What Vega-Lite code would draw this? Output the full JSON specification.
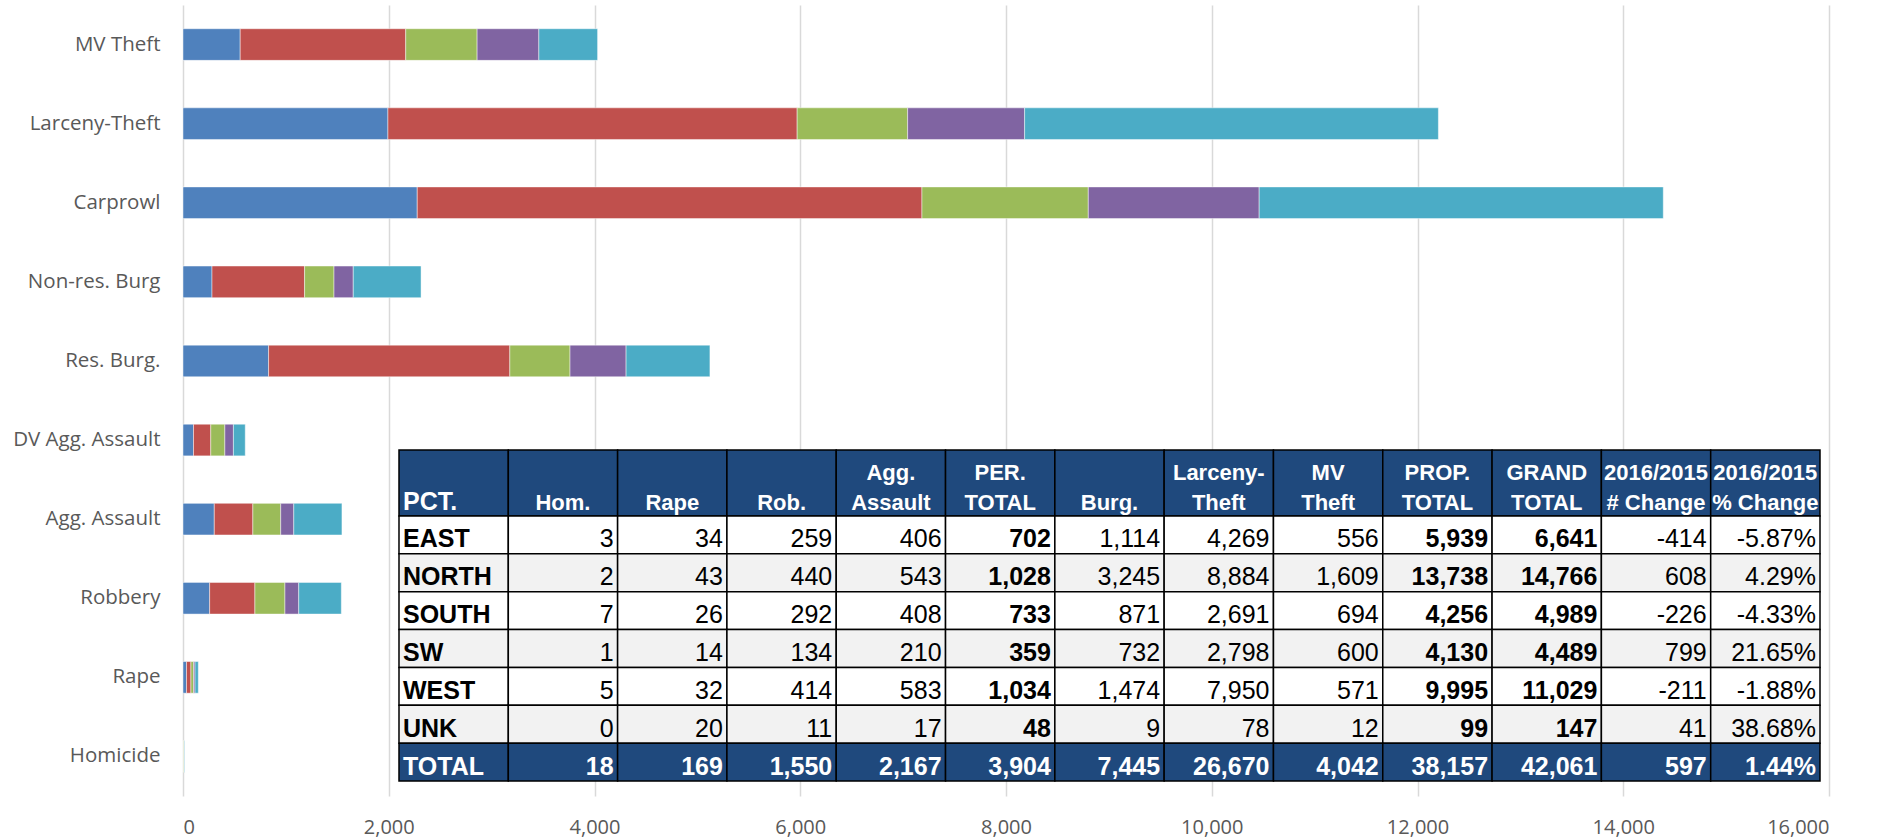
{
  "$schema": "https://vega.github.io/schema/vega-lite/v6.json",
  "width": 1646,
  "height": 791,
  "autosize": {"type": "none"},
  "padding": {"left": 183, "top": 5, "right": 48, "bottom": 44},
  "background": "white",
  "datasets": {
    "bars": [
      {"crime": "Homicide", "pct": "East", "k": 1, "value": 3},
      {"crime": "Homicide", "pct": "North", "k": 2, "value": 2},
      {"crime": "Homicide", "pct": "South", "k": 3, "value": 7},
      {"crime": "Homicide", "pct": "SW", "k": 4, "value": 1},
      {"crime": "Homicide", "pct": "West", "k": 5, "value": 5},
      {"crime": "Rape", "pct": "East", "k": 1, "value": 34},
      {"crime": "Rape", "pct": "North", "k": 2, "value": 43},
      {"crime": "Rape", "pct": "South", "k": 3, "value": 26},
      {"crime": "Rape", "pct": "SW", "k": 4, "value": 14},
      {"crime": "Rape", "pct": "West", "k": 5, "value": 32},
      {"crime": "Robbery", "pct": "East", "k": 1, "value": 259},
      {"crime": "Robbery", "pct": "North", "k": 2, "value": 440},
      {"crime": "Robbery", "pct": "South", "k": 3, "value": 292},
      {"crime": "Robbery", "pct": "SW", "k": 4, "value": 134},
      {"crime": "Robbery", "pct": "West", "k": 5, "value": 414},
      {"crime": "Agg. Assault", "pct": "East", "k": 1, "value": 304},
      {"crime": "Agg. Assault", "pct": "North", "k": 2, "value": 375},
      {"crime": "Agg. Assault", "pct": "South", "k": 3, "value": 271},
      {"crime": "Agg. Assault", "pct": "SW", "k": 4, "value": 127},
      {"crime": "Agg. Assault", "pct": "West", "k": 5, "value": 468},
      {"crime": "DV Agg. Assault", "pct": "East", "k": 1, "value": 102},
      {"crime": "DV Agg. Assault", "pct": "North", "k": 2, "value": 168},
      {"crime": "DV Agg. Assault", "pct": "South", "k": 3, "value": 137},
      {"crime": "DV Agg. Assault", "pct": "SW", "k": 4, "value": 83},
      {"crime": "DV Agg. Assault", "pct": "West", "k": 5, "value": 115},
      {"crime": "Res. Burg.", "pct": "East", "k": 1, "value": 832},
      {"crime": "Res. Burg.", "pct": "North", "k": 2, "value": 2345},
      {"crime": "Res. Burg.", "pct": "South", "k": 3, "value": 585},
      {"crime": "Res. Burg.", "pct": "SW", "k": 4, "value": 545},
      {"crime": "Res. Burg.", "pct": "West", "k": 5, "value": 815},
      {"crime": "Non-res. Burg", "pct": "East", "k": 1, "value": 282},
      {"crime": "Non-res. Burg", "pct": "North", "k": 2, "value": 900},
      {"crime": "Non-res. Burg", "pct": "South", "k": 3, "value": 286},
      {"crime": "Non-res. Burg", "pct": "SW", "k": 4, "value": 187},
      {"crime": "Non-res. Burg", "pct": "West", "k": 5, "value": 659},
      {"crime": "Carprowl", "pct": "East", "k": 1, "value": 2277},
      {"crime": "Carprowl", "pct": "North", "k": 2, "value": 4906},
      {"crime": "Carprowl", "pct": "South", "k": 3, "value": 1617},
      {"crime": "Carprowl", "pct": "SW", "k": 4, "value": 1661},
      {"crime": "Carprowl", "pct": "West", "k": 5, "value": 3928},
      {"crime": "Larceny-Theft", "pct": "East", "k": 1, "value": 1992},
      {"crime": "Larceny-Theft", "pct": "North", "k": 2, "value": 3978},
      {"crime": "Larceny-Theft", "pct": "South", "k": 3, "value": 1074},
      {"crime": "Larceny-Theft", "pct": "SW", "k": 4, "value": 1137},
      {"crime": "Larceny-Theft", "pct": "West", "k": 5, "value": 4022},
      {"crime": "MV Theft", "pct": "East", "k": 1, "value": 556},
      {"crime": "MV Theft", "pct": "North", "k": 2, "value": 1609},
      {"crime": "MV Theft", "pct": "South", "k": 3, "value": 694},
      {"crime": "MV Theft", "pct": "SW", "k": 4, "value": 600},
      {"crime": "MV Theft", "pct": "West", "k": 5, "value": 571}
    ],
    "header": [
      {"c": "pct", "l1": "", "l2": "PCT."},
      {"c": "hom", "l1": "", "l2": "Hom."},
      {"c": "rape", "l1": "", "l2": "Rape"},
      {"c": "rob", "l1": "", "l2": "Rob."},
      {"c": "agg", "l1": "Agg.", "l2": "Assault"},
      {"c": "per", "l1": "PER.", "l2": "TOTAL"},
      {"c": "burg", "l1": "", "l2": "Burg."},
      {"c": "lar", "l1": "Larceny-", "l2": "Theft"},
      {"c": "mv", "l1": "MV", "l2": "Theft"},
      {"c": "prop", "l1": "PROP.", "l2": "TOTAL"},
      {"c": "grand", "l1": "GRAND", "l2": "TOTAL"},
      {"c": "chg", "l1": "2016/2015", "l2": "# Change"},
      {"c": "pchg", "l1": "2016/2015", "l2": "% Change"}
    ],
    "table": [
      {"r": "EAST", "pct": "EAST", "hom": "3", "rape": "34", "rob": "259", "agg": "406", "per": "702", "burg": "1,114", "lar": "4,269", "mv": "556", "prop": "5,939", "grand": "6,641", "chg": "-414", "pchg": "-5.87%"},
      {"r": "NORTH", "pct": "NORTH", "hom": "2", "rape": "43", "rob": "440", "agg": "543", "per": "1,028", "burg": "3,245", "lar": "8,884", "mv": "1,609", "prop": "13,738", "grand": "14,766", "chg": "608", "pchg": "4.29%"},
      {"r": "SOUTH", "pct": "SOUTH", "hom": "7", "rape": "26", "rob": "292", "agg": "408", "per": "733", "burg": "871", "lar": "2,691", "mv": "694", "prop": "4,256", "grand": "4,989", "chg": "-226", "pchg": "-4.33%"},
      {"r": "SW", "pct": "SW", "hom": "1", "rape": "14", "rob": "134", "agg": "210", "per": "359", "burg": "732", "lar": "2,798", "mv": "600", "prop": "4,130", "grand": "4,489", "chg": "799", "pchg": "21.65%"},
      {"r": "WEST", "pct": "WEST", "hom": "5", "rape": "32", "rob": "414", "agg": "583", "per": "1,034", "burg": "1,474", "lar": "7,950", "mv": "571", "prop": "9,995", "grand": "11,029", "chg": "-211", "pchg": "-1.88%"},
      {"r": "UNK", "pct": "UNK", "hom": "0", "rape": "20", "rob": "11", "agg": "17", "per": "48", "burg": "9", "lar": "78", "mv": "12", "prop": "99", "grand": "147", "chg": "41", "pchg": "38.68%"},
      {"r": "TOTAL", "pct": "TOTAL", "hom": "18", "rape": "169", "rob": "1,550", "agg": "2,167", "per": "3,904", "burg": "7,445", "lar": "26,670", "mv": "4,042", "prop": "38,157", "grand": "42,061", "chg": "597", "pchg": "1.44%"}
    ]
  },
  "layer": [
    {
      "data": {"name": "bars"},
      "mark": {"type": "bar", "stroke": "#ffffff", "strokeWidth": 1, "strokeOpacity": 0.45},
      "encoding": {
        "y": {
          "field": "crime", "type": "nominal",
          "sort": ["MV Theft", "Larceny-Theft", "Carprowl", "Non-res. Burg", "Res. Burg.", "DV Agg. Assault", "Agg. Assault", "Robbery", "Rape", "Homicide"],
          "scale": {"paddingInner": 0.6, "paddingOuter": 0.3},
          "axis": {"title": null, "domain": false, "ticks": false, "labelPadding": 23, "labelFont": "Open Sans", "labelFontSize": 20.5, "labelColor": "#595959", "grid": false}
        },
        "x": {
          "field": "value", "type": "quantitative", "aggregate": "sum", "stack": "zero",
          "scale": {"domain": [0, 16000], "nice": false},
          "axis": {"title": null, "values": [0, 2000, 4000, 6000, 8000, 10000, 12000, 14000, 16000], "format": ",.0f", "domain": false, "ticks": false, "grid": true, "gridColor": "#D9D9D9", "gridWidth": 1.5, "labelPadding": 21, "labelFont": "Open Sans", "labelFontSize": 20, "labelColor": "#595959"}
        },
        "color": {
          "field": "pct", "type": "nominal",
          "scale": {"domain": ["East", "North", "South", "SW", "West"], "range": ["#4F81BD", "#C0504D", "#9BBB59", "#8064A2", "#4BACC6"]},
          "legend": null
        },
        "order": {"field": "k", "type": "quantitative", "sort": "ascending"}
      }
    },
    {
      "data": {"name": "header"},
      "layer": [
        {
          "mark": {"type": "rect", "fill": "#1F497D", "stroke": "#000000", "strokeWidth": 1.5},
          "encoding": {
            "x": {"field": "c", "type": "nominal", "sort": null, "scale": {"type": "band", "domain": ["pct", "hom", "rape", "rob", "agg", "per", "burg", "lar", "mv", "prop", "grand", "chg", "pchg"], "range": [216, 1637], "paddingInner": 0, "paddingOuter": 0}, "axis": null},
            "y": {"datum": "H", "type": "nominal", "scale": {"type": "band", "domain": ["H"], "range": [445, 511], "paddingInner": 0, "paddingOuter": 0}, "axis": null}
          }
        },
        {
          "transform": [{"filter": "datum.c !== 'pct'"}],
          "mark": {"type": "text", "align": "center", "baseline": "alphabetic", "font": "Liberation Sans, Arial, sans-serif", "fontSize": 22, "fontWeight": "bold", "fill": "#ffffff"},
          "encoding": {
            "x": {"field": "c", "type": "nominal", "bandPosition": 0.5, "axis": null},
            "y": {"datum": "H", "type": "nominal", "bandPosition": 0.455, "axis": null},
            "text": {"field": "l1"}
          }
        },
        {
          "transform": [{"filter": "datum.c !== 'pct'"}],
          "mark": {"type": "text", "align": "center", "baseline": "alphabetic", "font": "Liberation Sans, Arial, sans-serif", "fontSize": 22, "fontWeight": "bold", "fill": "#ffffff"},
          "encoding": {
            "x": {"field": "c", "type": "nominal", "bandPosition": 0.5, "axis": null},
            "y": {"datum": "H", "type": "nominal", "bandPosition": 0.91, "axis": null},
            "text": {"field": "l2"}
          }
        },
        {
          "transform": [{"filter": "datum.c === 'pct'"}],
          "mark": {"type": "text", "align": "left", "dx": 4, "baseline": "alphabetic", "font": "Liberation Sans, Arial, sans-serif", "fontSize": 25, "fontWeight": "bold", "fill": "#ffffff"},
          "encoding": {
            "x": {"field": "c", "type": "nominal", "bandPosition": 0, "axis": null},
            "y": {"datum": "H", "type": "nominal", "bandPosition": 0.91, "axis": null},
            "text": {"field": "l2"}
          }
        }
      ]
    },
    {
      "data": {"name": "table"},
      "transform": [{"fold": ["pct", "hom", "rape", "rob", "agg", "per", "burg", "lar", "mv", "prop", "grand", "chg", "pchg"], "as": ["c", "t"]}],
      "layer": [
        {
          "mark": {"type": "rect", "stroke": "#000000", "strokeWidth": 1.5},
          "encoding": {
            "x": {"field": "c", "type": "nominal", "sort": null, "scale": {"type": "band", "domain": ["pct", "hom", "rape", "rob", "agg", "per", "burg", "lar", "mv", "prop", "grand", "chg", "pchg"], "range": [216, 1637], "paddingInner": 0, "paddingOuter": 0}, "axis": null},
            "y": {"field": "r", "type": "nominal", "sort": null, "scale": {"type": "band", "domain": ["EAST", "NORTH", "SOUTH", "SW", "WEST", "UNK", "TOTAL"], "range": [511, 776], "paddingInner": 0, "paddingOuter": 0}, "axis": null},
            "fill": {
              "condition": [
                {"test": "datum.r === 'TOTAL'", "value": "#1F497D"},
                {"test": "indexof(['NORTH','SW','UNK'], datum.r) >= 0", "value": "#F2F2F2"}
              ],
              "value": "#FFFFFF"
            }
          }
        },
        {
          "transform": [{"filter": "datum.c === 'pct'"}],
          "mark": {"type": "text", "align": "left", "dx": 4, "baseline": "alphabetic", "font": "Liberation Sans, Arial, sans-serif", "fontSize": 25, "fontWeight": "bold"},
          "encoding": {
            "x": {"field": "c", "type": "nominal", "bandPosition": 0, "axis": null},
            "y": {"field": "r", "type": "nominal", "bandPosition": 0.83, "axis": null},
            "text": {"field": "t"},
            "color": {"condition": {"test": "datum.r === 'TOTAL'", "value": "#FFFFFF"}, "value": "#000000"}
          }
        },
        {
          "transform": [{"filter": "datum.c !== 'pct' && (datum.r === 'TOTAL' || indexof(['per','prop','grand'], datum.c) >= 0)"}],
          "mark": {"type": "text", "align": "right", "dx": -4, "baseline": "alphabetic", "font": "Liberation Sans, Arial, sans-serif", "fontSize": 25, "fontWeight": "bold"},
          "encoding": {
            "x": {"field": "c", "type": "nominal", "bandPosition": 1, "axis": null},
            "y": {"field": "r", "type": "nominal", "bandPosition": 0.83, "axis": null},
            "text": {"field": "t"},
            "color": {"condition": {"test": "datum.r === 'TOTAL'", "value": "#FFFFFF"}, "value": "#000000"}
          }
        },
        {
          "transform": [{"filter": "datum.c !== 'pct' && datum.r !== 'TOTAL' && indexof(['per','prop','grand'], datum.c) < 0"}],
          "mark": {"type": "text", "align": "right", "dx": -4, "baseline": "alphabetic", "font": "Liberation Sans, Arial, sans-serif", "fontSize": 25, "fontWeight": "normal", "fill": "#000000"},
          "encoding": {
            "x": {"field": "c", "type": "nominal", "bandPosition": 1, "axis": null},
            "y": {"field": "r", "type": "nominal", "bandPosition": 0.83, "axis": null},
            "text": {"field": "t"}
          }
        }
      ]
    }
  ],
  "resolve": {"scale": {"x": "independent", "y": "independent"}},
  "config": {
    "view": {"stroke": null},
    "axis": {"labelFont": "Open Sans"}
  }
}
